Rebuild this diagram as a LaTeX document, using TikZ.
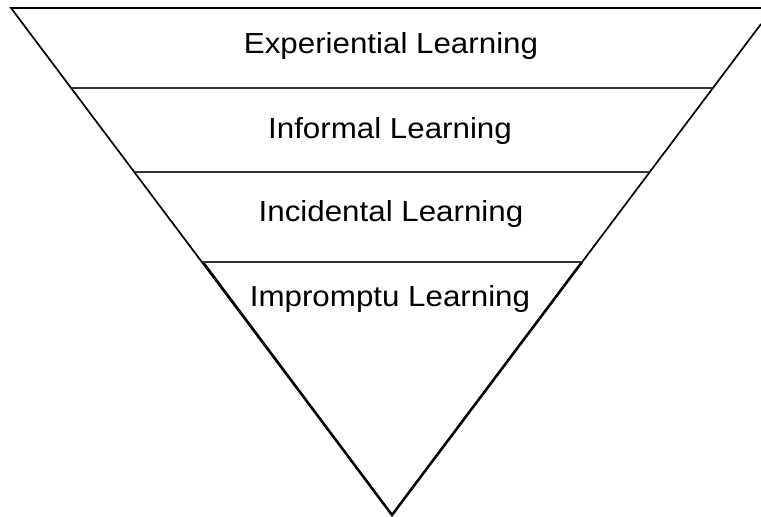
\documentclass[tikz,border=0pt]{standalone}
\usepackage{fontspec}
\setmainfont{Liberation Sans}
\begin{document}
\begin{tikzpicture}[x=1pt,y=-1pt,
  edge/.style={line width=1.7pt,line join=miter},
  lowedge/.style={line width=2.5pt},
  level/.style={line width=1.2pt,draw=black!80},
  label/.style={anchor=base,inner sep=0pt,font=\fontsize{29}{30}\selectfont,xscale=1.08}]
\useasboundingbox (0,0) rectangle (761,517);
\coordinate (tl) at (11,8);
\coordinate (tr) at (761,8);
\coordinate (re) at (761,24);
\coordinate (apex) at (392,515);
\coordinate (l1) at (71.1,88);   \coordinate (r1) at (712.7,88);
\coordinate (l2) at (134.2,172); \coordinate (r2) at (649.6,172);
\coordinate (l3) at (202.8,262); \coordinate (r3) at (582,262);
\begin{scope}
\clip (0,0) rectangle (761,517);
\draw[edge] (tr) -- (tl) -- (apex) -- (re);
\draw[lowedge,line cap=round] (l3) -- (apex) -- (r3);
\end{scope}
\draw[level] (l1) -- (r1);
\draw[level] (l2) -- (r2);
\draw[level] (l3) -- (r3);
\node[label] (t1) at (391,53) {Experiential Learning};
\node[label] (t2) at (390,138) {Informal Learning};
\node[label] (t3) at (391,221) {Incidental Learning};
\node[label] (t4) at (390,306) {Impromptu Learning};
\end{tikzpicture}
\end{document}
